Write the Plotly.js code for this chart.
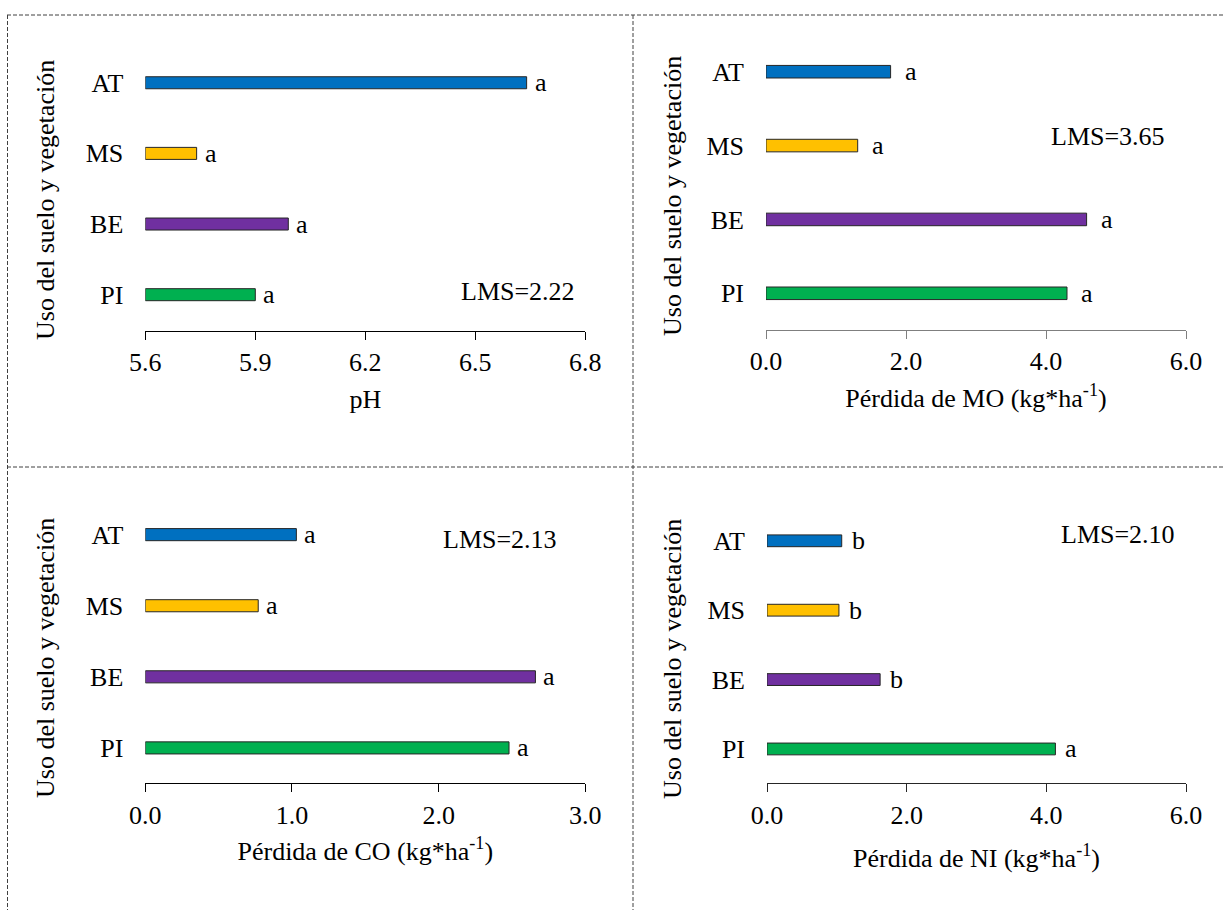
<!DOCTYPE html>
<html>
<head>
<meta charset="utf-8">
<script src="https://cdn.plot.ly/plotly-3.0.1.min.js"></script>
<style>
  html, body { margin: 0; padding: 0; background: #ffffff; }
  #chart { width: 1225px; height: 910px; }
</style>
</head>
<body>
<div id="chart"></div>
<script>
// Land-use / vegetation classes, bottom to top on each panel
const categories = ['PI', 'BE', 'MS', 'AT'];
const barColors = ['#00B050', '#7030A0', '#FFC000', '#0070C0'];

// Soil pH
const phValues = [5.90, 5.99, 5.74, 6.64];
const phLetters = ['a', 'a', 'a', 'a'];
const phTicks = [5.6, 5.9, 6.2, 6.5, 6.8];

// Organic matter loss (kg*ha-1)
const moLoss = [4.30, 4.58, 1.31, 1.78];
const moLetters = ['a', 'a', 'a', 'a'];
const moTicks = [0, 2, 4, 6];

// Organic carbon loss (kg*ha-1)
const coLoss = [2.48, 2.66, 0.77, 1.03];
const coLetters = ['a', 'a', 'a', 'a'];
const coTicks = [0, 1, 2, 3];

// Inorganic nitrogen loss (kg*ha-1)
const niLoss = [4.13, 1.62, 1.03, 1.07];
const niLetters = ['a', 'b', 'b', 'b'];
const niTicks = [0, 2, 4, 6];

const lmsLabels = ['LMS=2.22', 'LMS=3.65', 'LMS=2.13', 'LMS=2.10'];
const xTitles = [
  'pH',
  'Pérdida de MO (kg*ha<sup>-1</sup>)',
  'Pérdida de CO (kg*ha<sup>-1</sup>)',
  'Pérdida de NI (kg*ha<sup>-1</sup>)'
];
const yTitle = 'Uso del suelo y vegetación';

const W = 1225, H = 910;
const FONT = '"Liberation Serif", "Times New Roman", Times, serif';
const px = v => v / W;
const py = v => 1 - v / H;

// Panel geometry (pixels) and styling
const panels = [
  { values: phValues, letters: phLetters, ticks: phTicks, base: 5.6, range: [5.6, 6.8],
    xl: 145.3, xr: 585.3, yAxis: 331, yTop: 40, yRange: [-0.514, 3.605],
    lineColor: '#000000', letterShift: 6, standoff: 13,
    lms: [518, 291], ytitle: [45, 200] },
  { values: moLoss, letters: moLetters, ticks: moTicks, base: 0, range: [0, 6],
    xl: 766, xr: 1186, yAxis: 330, yTop: 35, yRange: [-0.497, 3.497],
    lineColor: '#7f7f7f', letterShift: 12, standoff: 13,
    lms: [1108, 136], ytitle: [672, 196] },
  { values: coLoss, letters: coLetters, ticks: coTicks, base: 0, range: [0, 3],
    xl: 145.3, xr: 585.3, yAxis: 783.3, yTop: 490, yRange: [-0.498, 3.628],
    lineColor: '#000000', letterShift: 6, standoff: 13,
    lms: [500, 539], ytitle: [45, 658] },
  { values: niLoss, letters: niLetters, ticks: niTicks, base: 0, range: [0, 6],
    xl: 767, xr: 1186, yAxis: 783.3, yTop: 500, yRange: [-0.495, 3.588],
    lineColor: '#262626', letterShift: 8, standoff: 20,
    lms: [1118, 534], ytitle: [672, 659] }
];

const data = [];
const layout = {
  width: W, height: H,
  margin: { l: 0, r: 0, t: 0, b: 0 },
  paper_bgcolor: '#ffffff',
  plot_bgcolor: 'rgba(0,0,0,0)',
  showlegend: false,
  font: { family: FONT, size: 26, color: '#000000' },
  annotations: [],
  shapes: []
};

panels.forEach((p, i) => {
  const n = i + 1;
  const xa = n === 1 ? 'x' : 'x' + n;
  const ya = n === 1 ? 'y' : 'y' + n;

  data.push({
    type: 'bar',
    orientation: 'h',
    y: categories,
    x: p.values.map(v => v - p.base),
    base: p.base,
    width: 0.17,
    marker: { color: barColors, line: { color: '#262626', width: 1 } },
    xaxis: xa, yaxis: ya,
    hoverinfo: 'skip'
  });

  layout['xaxis' + (n === 1 ? '' : n)] = {
    domain: [px(p.xl), px(p.xr)],
    anchor: ya,
    range: p.range,
    tickmode: 'array',
    tickvals: p.ticks,
    tickformat: '.1f',
    showline: true, linecolor: p.lineColor, linewidth: 1,
    ticks: 'outside', ticklen: 8, tickcolor: p.lineColor, tickwidth: 1,
    showgrid: false, zeroline: false,
    tickfont: { family: FONT, size: 26, color: '#000000' },
    title: { text: xTitles[i], font: { family: FONT, size: 26, color: '#000000' }, standoff: p.standoff },
    fixedrange: true
  };

  layout['yaxis' + (n === 1 ? '' : n)] = {
    domain: [py(p.yAxis), py(p.yTop)],
    anchor: xa,
    type: 'category',
    categoryorder: 'array',
    categoryarray: categories,
    range: p.yRange,
    showline: false, ticks: '', showgrid: false, zeroline: false,
    tickfont: { family: FONT, size: 26, color: '#000000' },
    ticklabelstandoff: 21,
    fixedrange: true
  };

  // significance letters at the end of each bar
  categories.forEach((c, k) => {
    layout.annotations.push({
      xref: xa, yref: ya, x: p.values[k], y: c,
      text: p.letters[k], showarrow: false,
      xanchor: 'left', yanchor: 'middle', xshift: p.letterShift,
      font: { family: FONT, size: 26, color: '#000000' }
    });
  });

  // least significant difference note
  layout.annotations.push({
    xref: 'paper', yref: 'paper', x: px(p.lms[0]), y: py(p.lms[1]),
    text: lmsLabels[i], showarrow: false, xanchor: 'center', yanchor: 'middle',
    font: { family: FONT, size: 26, color: '#000000' }
  });

  // vertical axis title
  layout.annotations.push({
    xref: 'paper', yref: 'paper', x: px(p.ytitle[0]), y: py(p.ytitle[1]),
    text: yTitle, textangle: -90, showarrow: false, xanchor: 'center', yanchor: 'middle',
    font: { family: FONT, size: 26, color: '#000000' }
  });
});

// dashed frame around the four panels
const dash = { color: '#404040', width: 1, dash: '4px,2px' };
[
  [7, 15, 1225, 15],
  [7, 467, 1225, 467],
  [7.5, 15, 7.5, 910],
  [633, 15, 633, 910]
].forEach(([x0, y0, x1, y1]) => {
  layout.shapes.push({
    type: 'line', xref: 'paper', yref: 'paper',
    x0: px(x0), y0: py(y0), x1: px(x1), y1: py(y1), line: dash
  });
});

Plotly.newPlot('chart', data, layout, { displayModeBar: false, staticPlot: true });
</script>
</body>
</html>
